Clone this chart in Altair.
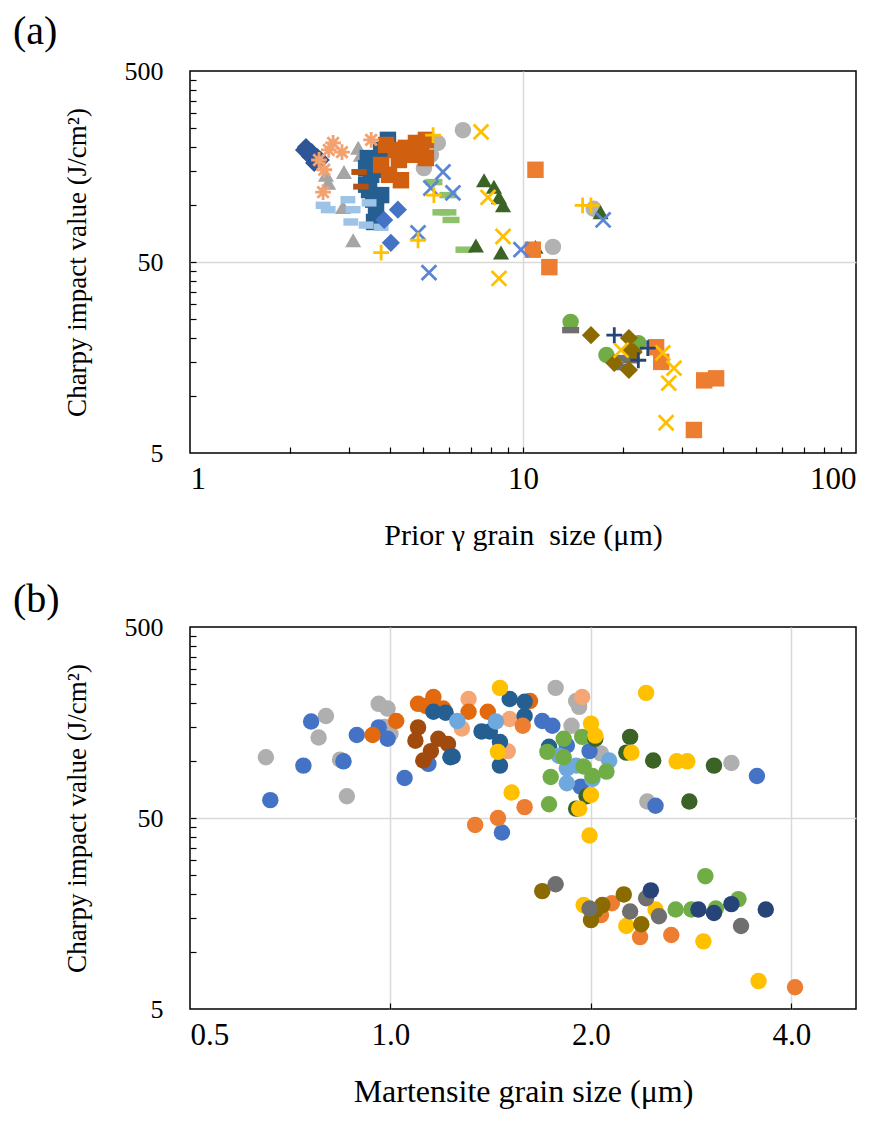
import altair as alt
import pandas as pd

# ---------------- Panel (a): Charpy value vs prior austenite grain size ----------------
A_DIA_DK_X = [2.20, 2.23, 2.29, 2.32, 2.36, 2.41, 2.47]
A_DIA_DK_Y = [193, 200, 179, 188, 165, 177, 171]
A_DIA_BL_X = [4.21, 3.83, 4.01]
A_DIA_BL_Y = [94, 83, 63]
A_AST_X = [2.69, 2.86, 2.53, 2.51, 3.50, 2.44, 2.61]
A_AST_Y = [210, 188, 152, 116, 218, 171, 193]
A_TRI_GRAY_X = [3.20, 2.90, 2.60, 2.88, 3.09, 2.56, 3.26]
A_TRI_GRAY_Y = [198, 148, 130, 97, 65, 143, 182]
A_SQ_DKBLUE_X = [3.42, 3.50, 3.45, 3.55, 3.62, 3.38, 3.75, 3.93, 3.70, 3.57, 3.38, 3.75]
A_SQ_DKBLUE_Y = [175, 143, 119, 106, 94, 127, 112, 218, 152, 81, 155, 193]
A_SQ_DKORANGE_X = [3.88, 4.15, 4.45, 4.77, 5.11, 4.24, 4.67, 5.11, 3.96, 4.30, 3.75, 4.94]
A_SQ_DKORANGE_Y = [205, 193, 198, 210, 218, 171, 182, 175, 143, 134, 161, 193]
A_CIRC_GRAY_X = [6.60, 5.55, 5.04, 5.29, 12.3, 16.3]
A_CIRC_GRAY_Y = [245, 210, 155, 182, 60, 95]
A_X_YELLOW_X = [7.48, 8.71, 8.47, 7.85, 26.3, 28.4, 27.4, 26.9, 19.7]
A_X_YELLOW_Y = [240, 68, 41, 109, 16.7, 13.9, 11.6, 7.2, 17.3]
A_X_BLUE_X = [5.75, 5.29, 6.16, 4.84, 5.22, 9.86, 17.4]
A_X_BLUE_Y = [148, 122, 115, 71, 44, 58, 83]
A_PLUS_YELLOW_X = [5.40, 4.84, 3.75, 5.37, 15.1, 16.0]
A_PLUS_YELLOW_Y = [112, 65, 56, 231, 99, 99]
A_DASH_LTGREEN_X = [5.40, 5.95, 5.95, 6.08, 6.65, 5.67]
A_DASH_LTGREEN_Y = [131, 112, 91, 83, 58, 91]
A_TRI_DKGREEN_X = [7.64, 8.18, 8.47, 8.71, 7.22, 8.59, 10.9, 17.1]
A_TRI_DKGREEN_Y = [134, 124, 109, 99, 61, 56, 60, 91]
A_SQ_ORANGE_X = [10.9, 10.7, 12.0, 25.1, 26.0, 35.0, 38.0, 32.6]
A_SQ_ORANGE_Y = [152, 58, 47, 17.9, 15.0, 12.0, 12.3, 6.6]
A_CIRC_GREEN_X = [13.9, 17.8, 22.2]
A_CIRC_GREEN_Y = [24.3, 16.3, 18.8]
A_DASH_DKGRAY_X = [13.9, 20.1, 19.7, 21.1]
A_DASH_DKGRAY_Y = [22.0, 15.7, 14.1, 15.3]
A_DIA_OLIVE_X = [16.0, 20.8, 20.8, 21.5, 18.8, 20.8]
A_DIA_OLIVE_Y = [20.7, 20.0, 17.3, 16.9, 14.8, 13.6]
A_PLUS_NAVY_X = [18.8, 23.7, 22.2]
A_PLUS_NAVY_Y = [20.7, 17.7, 15.3]
A_DASH_LTBLUE_X = [2.51, 2.60, 2.98, 3.09, 3.45, 3.38, 3.75, 3.04]
A_DASH_LTBLUE_Y = [99, 94, 106, 94, 102, 78, 76, 81]
A_DASH_DKORANGE_X = [3.22, 3.26]
A_DASH_DKORANGE_Y = [148, 124]
A_DASH_BLUE_X = [4.21]
A_DASH_BLUE_Y = [171]

# ---------------- Panel (b): Charpy value vs martensite grain size ----------------
B_GRAY_X = [0.65, 0.80, 0.78, 0.84, 0.86, 0.96, 0.99, 0.98, 1.00, 1.77, 1.90, 1.92, 1.87, 2.07, 3.25, 2.43]
B_GRAY_Y = [104, 171, 132, 101, 65, 198, 187, 150, 138, 240, 205, 191, 152, 109, 97, 61]
B_BLUE_X = [0.66, 0.74, 0.76, 0.85, 0.89, 0.96, 0.99, 1.05, 1.14, 1.69, 1.75, 1.84, 1.99, 1.93, 3.55, 2.50, 1.47]
B_BLUE_Y = [62, 94, 160, 99, 136, 149, 130, 81, 96, 161, 152, 120, 112, 73, 83, 58, 42]
B_LTORANGE_X = [1.31, 1.51, 1.28, 1.50, 1.94]
B_LTORANGE_Y = [210, 165, 147, 112, 215]
B_ORANGE_DK_X = [0.94, 1.02, 1.10, 1.16, 1.13, 1.20, 1.62, 1.40, 1.31]
B_ORANGE_DK_Y = [136, 161, 198, 215, 193, 187, 205, 180, 180]
B_BROWN_X = [1.10, 1.09, 1.18, 1.22, 1.15, 1.12]
B_BROWN_Y = [149, 127, 130, 122, 112, 100]
B_DKBLUE_X = [1.16, 1.21, 1.23, 1.51, 1.59, 1.59, 1.37, 1.41, 1.46, 1.46, 1.24, 1.73]
B_DKBLUE_Y = [180, 178, 104, 210, 203, 171, 142, 142, 125, 94, 105, 118]
B_LTBLUE_X = [1.44, 1.26, 1.79, 1.84, 1.84, 1.90, 2.13, 2.01]
B_LTBLUE_Y = [160, 161, 106, 91, 76, 94, 100, 80]
B_GREEN_X = [1.82, 1.94, 1.72, 1.82, 1.95, 2.01, 2.11, 1.74, 1.73, 2.97, 2.68, 2.83, 3.08, 3.33]
B_GREEN_Y = [130, 133, 111, 104, 93, 83, 87.5, 82, 59, 24.8, 16.6, 16.6, 16.8, 18.8]
B_DKGREEN_X = [2.03, 1.97, 1.90, 2.29, 2.26, 2.48, 3.06, 2.81]
B_DKGREEN_Y = [130, 65, 56, 133, 110, 100, 94, 61]
B_GOLD_X = [1.46, 1.45, 1.52, 2.00, 2.03, 1.92, 1.99, 2.00, 2.42, 2.30, 2.69, 2.79, 1.95, 2.50, 2.26, 2.95, 3.57]
B_GOLD_Y = [240, 111, 68, 156, 135, 56, 40.5, 66, 226, 110, 99, 99, 17.5, 16.6, 13.6, 11.3, 7.0]
B_ORANGE_X = [1.58, 1.59, 1.45, 1.34, 2.15, 2.07, 2.37, 2.64, 4.05]
B_ORANGE_Y = [152, 57, 50, 46, 17.9, 15.5, 11.9, 12.2, 6.5]
B_OLIVE_X = [1.69, 2.24, 2.08, 2.03, 2.00, 2.38]
B_OLIVE_Y = [20.7, 19.9, 17.5, 16.4, 14.6, 13.9]
B_DKGRAY_X = [1.77, 1.99, 2.42, 2.29, 2.53, 3.36]
B_DKGRAY_Y = [22.5, 16.8, 19.0, 16.2, 15.3, 13.6]
B_NAVY_X = [2.46, 2.90, 3.06, 3.25, 3.66]
B_NAVY_Y = [20.9, 16.6, 15.9, 17.7, 16.6]

# axis tick values
A_X_LABELS = [1, 10, 100]
A_X_MINOR = [2, 3, 4, 5, 6, 7, 8, 9, 10, 20, 30, 40, 50, 60, 70, 80, 90]
B_X_LABELS = [0.5, 1, 2, 4]
B_X_MINOR = [1, 2, 4]
Y_LABELS = [5, 50, 500]
Y_MINOR = [10, 15, 20, 25, 30, 35, 40, 45, 50, 100, 150, 200, 250, 300, 350, 400, 450]

# ---------------- marker styles ----------------
DASH = "M-1,-0.38L1,-0.38L1,0.38L-1,0.38Z"
XMARK = "M-1,-1L1,1M-1,1L1,-1"
PLUS = "M-1,0L1,0M0,-1L0,1"
AST = "M-1,0L1,0M0,-1L0,1M-0.72,-0.72L0.72,0.72M-0.72,0.72L0.72,-0.72"

A_FILLED = [
    (A_CIRC_GRAY_X, A_CIRC_GRAY_Y, "#B2B2B2", "circle", 270),
    (A_TRI_GRAY_X, A_TRI_GRAY_Y, "#A5A5A5", "triangle-up", 260),
    (A_DIA_DK_X, A_DIA_DK_Y, "#2F5597", "diamond", 330),
    (A_SQ_DKBLUE_X, A_SQ_DKBLUE_Y, "#255E91", "square", 270),
    (A_DASH_LTBLUE_X, A_DASH_LTBLUE_Y, "#9DC3E6", "M-1,-0.5L1,-0.5L1,0.5L-1,0.5Z", 220),
    (A_DIA_BL_X, A_DIA_BL_Y, "#4472C4", "diamond", 330),
    (A_DASH_DKORANGE_X, A_DASH_DKORANGE_Y, "#B5520F", DASH, 240),
    (A_DASH_BLUE_X, A_DASH_BLUE_Y, "#4472C4", DASH, 160),
    (A_SQ_DKORANGE_X, A_SQ_DKORANGE_Y, "#D0600F", "square", 270),
    (A_DASH_LTGREEN_X, A_DASH_LTGREEN_Y, "#8DC26A", DASH, 290),
    (A_TRI_DKGREEN_X, A_TRI_DKGREEN_Y, "#3B6325", "triangle-up", 260),
    (A_SQ_ORANGE_X, A_SQ_ORANGE_Y, "#ED7D31", "square", 270),
    (A_CIRC_GREEN_X, A_CIRC_GREEN_Y, "#70AD47", "circle", 270),
    (A_DASH_DKGRAY_X, A_DASH_DKGRAY_Y, "#6F6F6F", DASH, 290),
    (A_DIA_OLIVE_X, A_DIA_OLIVE_Y, "#8B6A00", "diamond", 330),
]
A_STROKED = [
    (A_AST_X, A_AST_Y, "#F4A170", AST, 250),
    (A_X_BLUE_X, A_X_BLUE_Y, "#5B85D6", XMARK, 220),
    (A_PLUS_YELLOW_X, A_PLUS_YELLOW_Y, "#FFC000", PLUS, 250),
    (A_X_YELLOW_X, A_X_YELLOW_Y, "#FFC000", XMARK, 220),
    (A_PLUS_NAVY_X, A_PLUS_NAVY_Y, "#264478", PLUS, 250),
]
B_FILLED = [
    (B_GRAY_X, B_GRAY_Y, "#AFAFAF"),
    (B_BLUE_X, B_BLUE_Y, "#4472C4"),
    (B_LTORANGE_X, B_LTORANGE_Y, "#F4A674"),
    (B_ORANGE_DK_X, B_ORANGE_DK_Y, "#E2690E"),
    (B_BROWN_X, B_BROWN_Y, "#A04A0E"),
    (B_DKBLUE_X, B_DKBLUE_Y, "#255E91"),
    (B_LTBLUE_X, B_LTBLUE_Y, "#6FA8DC"),
    (B_GREEN_X, B_GREEN_Y, "#70AD47"),
    (B_DKGREEN_X, B_DKGREEN_Y, "#3B6325"),
    (B_GOLD_X, B_GOLD_Y, "#FFC000"),
    (B_ORANGE_X, B_ORANGE_Y, "#ED7D31"),
    (B_OLIVE_X, B_OLIVE_Y, "#8B6A00"),
    (B_DKGRAY_X, B_DKGRAY_Y, "#6F6F6F"),
    (B_NAVY_X, B_NAVY_Y, "#264478"),
]


def build(series, default_shape="circle", default_size=270):
    rows = []
    for s in series:
        xs, ys, col = s[0], s[1], s[2]
        shp = s[3] if len(s) > 3 else default_shape
        sz = s[4] if len(s) > 4 else default_size
        for xv, yv in zip(xs, ys):
            rows.append({"x": xv, "y": yv, "color": col, "shape": shp, "size": sz})
    return pd.DataFrame(rows)


FONT = "Liberation Serif"
GRID = "#D9D9D9"
W, H = 666, 382
Y_TITLE = "Charpy impact value (J/cm²)"


def y_main():
    return alt.Axis(values=Y_LABELS, format="d", orient="left", grid=True, gridColor=GRID, gridWidth=1.5,
                    gridOpacity={"condition": {"test": "datum.value > 6 && datum.value < 400", "value": 1}, "value": 0},
                    ticks=False, tickSize=0, domain=False, labelPadding=27, titlePadding=33,
                    labelFont=FONT, labelFontSize=26, titleFont=FONT, titleFontSize=27)


def y_tick():
    return alt.Axis(values=Y_MINOR, orient="left", offset=-6, tickSize=6, tickColor="black", tickWidth=1.2,
                    labels=False, domain=False, grid=False)


def x_main(values, fmt, test, title_size):
    return alt.Axis(values=values, format=fmt, orient="bottom", grid=True, gridColor=GRID, gridWidth=1.5,
                    gridOpacity={"condition": {"test": test, "value": 1}, "value": 0},
                    ticks=False, tickSize=0, domain=False, labelPadding=11, titlePadding=26,
                    labelFont=FONT, labelFontSize=31, titleFont=FONT, titleFontSize=title_size)


def x_tick(values):
    return alt.Axis(values=values, orient="bottom", offset=-6, tickSize=6, tickColor="black", tickWidth=1.2,
                    labels=False, domain=False, grid=False)


def panel(filled_df, stroked_df, xscale, xmain, xtick, xtitle, label, label_dy):
    yscale = alt.Scale(type="log", domain=[5, 500], nice=False)
    enc_common = dict(
        color=alt.Color("color:N", scale=None),
        shape=alt.Shape("shape:N", scale=None),
        size=alt.Size("size:Q", scale=None),
    )
    filled = alt.Chart(filled_df).mark_point(filled=True, opacity=1).encode(
        x=alt.X("x:Q", scale=xscale, axis=xmain, title=xtitle),
        y=alt.Y("y:Q", scale=yscale, axis=y_main(), title=Y_TITLE),
        **enc_common,
    )
    tick_df = stroked_df if stroked_df is not None else filled_df
    tick_layer = alt.Chart(tick_df).mark_point(
        filled=False, opacity=1 if stroked_df is not None else 0, strokeWidth=2.8
    ).encode(
        x=alt.X("x:Q", scale=xscale, axis=xtick, title=""),
        y=alt.Y("y:Q", scale=yscale, axis=y_tick(), title=""),
        **enc_common,
    )
    lab = alt.Chart(pd.DataFrame({"t": [label]})).mark_text(
        font=FONT, fontSize=40, align="left", baseline="top", color="black"
    ).encode(text="t:N", x=alt.value(-177), y=alt.value(label_dy))
    return alt.layer(filled, tick_layer, lab).resolve_scale(x="independent", y="independent").properties(
        width=W, height=H
    )


a_xscale = alt.Scale(type="log", domain=[1, 100], nice=False)
b_xscale = alt.Scale(type="log", base=2, domain=[0.5, 5], nice=False)

pa = panel(build(A_FILLED), build(A_STROKED), a_xscale,
           x_main(A_X_LABELS, "d", "datum.value > 1.5 && datum.value < 80", 30), x_tick(A_X_MINOR),
           "Prior γ grain\u00a0 size (μm)", "(a)", -59)
pb = panel(build(B_FILLED), None, b_xscale,
           x_main(B_X_LABELS, ".1f", "datum.value > 0.6", 32), x_tick(B_X_MINOR),
           "Martensite grain size (μm)", "(b)", -47)

chart = alt.vconcat(pa, pb, spacing=28).properties(
    padding={"left": 4, "top": 3, "right": 5, "bottom": 5}
).configure_view(stroke="black", strokeWidth=1.5).configure_axis(
    labelColor="black", titleColor="black", titleFontWeight="normal",
)

chart.save("out.html", embed_options={"renderer": "svg", "actions": False})
